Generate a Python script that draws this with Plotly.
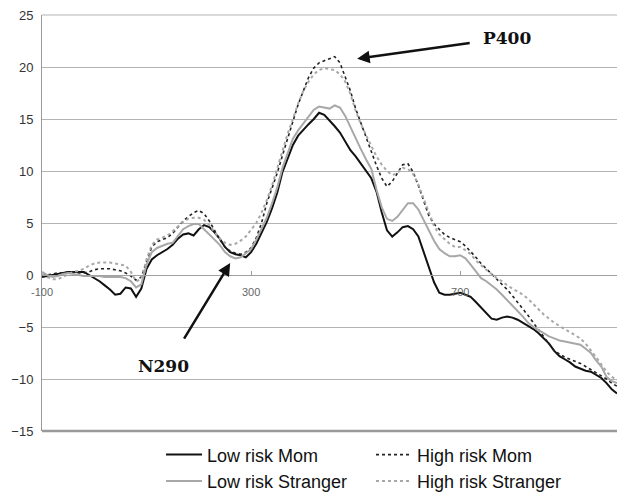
import plotly.graph_objects as go

# time in ms, every 10 ms from -100 to 1000
time_ms = list(range(-100, 1001, 10))

low_risk_mom = [
    -0.2, -0.1, 0.0, 0.1, 0.2, 0.3, 0.3, 0.3, 0.3, 0.0,
    -0.3, -0.6, -1.0, -1.4, -1.9, -1.8, -1.2, -1.3, -2.1, -1.3,
    0.6, 1.5, 1.9, 2.2, 2.5, 2.9, 3.5, 3.9, 4.0, 3.8,
    4.4, 4.8, 4.6, 4.1, 3.5, 2.7, 2.2, 2.0, 1.9, 1.7,
    2.2, 3.0, 4.0, 5.1, 6.4, 7.9, 9.9, 11.3, 12.5, 13.4,
    14.0, 14.5, 15.0, 15.6, 15.4, 14.9, 14.3, 13.7, 12.9, 12.0,
    11.4, 10.7, 10.1, 9.3, 8.0, 6.0, 4.3, 3.7, 4.1, 4.6,
    4.7, 4.4, 3.7, 2.2, 0.7, -0.7, -1.7, -1.9, -1.9, -1.8,
    -1.7, -1.9, -2.1, -2.6, -3.1, -3.7, -4.2, -4.3, -4.1, -4.0,
    -4.1, -4.3, -4.6, -4.9, -5.2, -5.6, -6.1, -6.6, -7.3, -7.8,
    -8.1, -8.4, -8.8, -9.0, -9.2, -9.3, -9.6, -9.9, -10.4, -11.0,
    -11.4,
]

high_risk_mom = [
    0.0, 0.0, 0.1, 0.2, 0.2, 0.3, 0.3, 0.2, 0.2, 0.3,
    0.5, 0.6, 0.6, 0.6, 0.5, 0.4, 0.2, -0.1, -0.5, -0.2,
    1.3, 2.7, 3.2, 3.4, 3.6, 4.0, 4.6, 5.2, 5.6, 6.0,
    6.2, 5.9, 5.2, 4.3, 3.4, 2.7, 2.3, 2.1, 2.0, 2.2,
    2.6, 3.6, 5.0, 6.9, 8.3, 9.8, 11.5, 13.1, 14.8, 16.4,
    17.7, 19.0, 19.9, 20.4, 20.6, 20.8, 21.0, 20.4, 19.1, 17.7,
    16.0, 14.6, 13.2, 11.9, 10.5, 9.3, 8.5, 9.0, 9.8, 10.6,
    10.7, 9.9, 8.6, 7.1, 5.7, 4.9, 4.4, 3.9, 3.6, 3.4,
    3.2, 2.8, 2.3, 1.7, 1.1, 0.6, 0.1, -0.3, -0.9, -1.4,
    -2.0, -2.6, -3.2, -3.9, -4.6, -5.3, -6.0, -6.7, -7.3, -7.6,
    -7.9, -8.1, -8.3, -8.5, -8.8, -9.1, -9.4, -9.7, -10.0, -10.4,
    -10.7,
]

low_risk_stranger = [
    0.3, 0.0, -0.2, -0.1, 0.1, 0.2, 0.1, 0.0, -0.1, -0.1,
    -0.1, -0.1, -0.2, -0.2, -0.2, -0.2, -0.3, -0.6, -1.2, -0.9,
    1.0, 2.2, 2.6, 2.8, 3.0, 3.1, 3.7, 4.4, 4.7, 4.9,
    4.9, 4.4, 3.9, 3.4, 2.9, 2.2, 1.8, 1.6, 1.7, 2.1,
    2.5, 3.4, 4.4, 5.5, 6.9, 8.4, 10.3, 11.8, 13.1, 13.9,
    14.6, 15.3, 15.9, 16.2, 16.1, 16.0, 16.3, 16.1, 15.3, 14.2,
    13.2, 12.1, 11.1, 10.2, 8.2, 6.5, 5.4, 5.2, 5.6, 6.3,
    6.9, 6.9, 6.3, 5.3, 4.3, 3.3, 2.5, 2.1, 1.8, 1.8,
    1.9, 1.6, 1.0, 0.4, -0.3, -0.6, -1.0, -1.4, -1.9, -2.4,
    -2.9, -3.4, -4.0, -4.6, -5.0, -5.3, -5.6, -5.9, -6.1, -6.3,
    -6.4, -6.5, -6.6, -6.7, -7.1, -7.5, -8.2, -8.8, -9.8, -10.2,
    -10.4,
]

high_risk_stranger = [
    0.1, -0.2, -0.4, -0.4, -0.2, 0.1, 0.3, 0.4, 0.6, 0.9,
    1.1, 1.2, 1.2, 1.2, 1.1, 1.0, 0.9, 0.3, -0.6, -0.4,
    1.5, 2.9, 3.4, 3.6, 3.8, 4.2, 4.7, 5.1, 5.4, 5.5,
    5.5, 5.3, 4.8, 4.1, 3.5, 3.1, 2.9, 3.0, 3.3, 3.7,
    4.3, 5.0, 6.0, 7.2, 8.6, 10.3, 12.0, 13.6, 15.0, 16.5,
    17.7, 18.6, 19.3, 19.7, 19.9, 19.8, 19.7, 19.3, 18.6, 17.4,
    15.8, 14.5, 13.4, 12.4, 11.4, 10.6, 10.0, 9.6, 9.8, 10.3,
    10.2, 9.7, 8.7, 7.4, 6.0, 4.7, 3.9, 3.4, 3.0, 2.7,
    2.7, 2.4, 2.0, 1.4, 0.9, 0.5, 0.1, -0.3, -0.6, -1.0,
    -1.3, -1.6, -1.9, -2.3, -2.8, -3.3, -3.8, -4.2, -4.6, -4.9,
    -5.2, -5.5, -5.8, -6.1, -6.6, -7.2, -7.9, -8.6, -9.3, -9.8,
    -10.1,
]

x_tick_vals = [-100, 300, 700]
x_tick_text = ["-100", "300", "700"]
y_tick_vals = [-15, -10, -5, 0, 5, 10, 15, 20, 25]

FONT = "Liberation Sans, Arial, sans-serif"

fig = go.Figure()
fig.add_trace(go.Scatter(x=time_ms, y=low_risk_mom, mode="lines", name="Low risk Mom",
                         line=dict(color="#111111", width=2)))
fig.add_trace(go.Scatter(x=time_ms, y=high_risk_mom, mode="lines", name="High risk Mom",
                         line=dict(color="#222222", width=1.6, dash="dot")))
fig.add_trace(go.Scatter(x=time_ms, y=low_risk_stranger, mode="lines", name="Low risk Stranger",
                         line=dict(color="#a8a8a8", width=2)))
fig.add_trace(go.Scatter(x=time_ms, y=high_risk_stranger, mode="lines", name="High risk Stranger",
                         line=dict(color="#a8a8a8", width=2, dash="dot")))

fig.update_layout(
    width=629, height=503,
    margin=dict(l=34, r=20, t=7, b=80, autoexpand=False),
    paper_bgcolor="white", plot_bgcolor="white",
    font=dict(family=FONT, color="#222222"),
    showlegend=True,
    legend=dict(orientation="h", x=0.207, xanchor="left", y=-0.013, yanchor="top",
                entrywidth=159, entrywidthmode="pixels", itemwidth=36,
                font=dict(size=18, family=FONT, color="#111111"),
                bgcolor="rgba(0,0,0,0)"),
    xaxis=dict(range=[-100, 1000], anchor="free", position=0.375, automargin=False,
               tickmode="array", tickvals=x_tick_vals, ticktext=x_tick_text,
               ticks="inside", ticklen=4, tickcolor="#999999", ticklabelstandoff=7,
               showgrid=False, zeroline=False, showline=True, linecolor="#a0a0a0", linewidth=1,
               tickfont=dict(size=11, color="#666666", family=FONT)),
    yaxis=dict(range=[-15, 25.0001], domain=[0, 1], tickmode="array", tickvals=y_tick_vals,
               automargin=False, ticklabeloverflow="allow",
               showgrid=True, gridcolor="#b4b4b4", gridwidth=1, zeroline=False,
               showline=True, linecolor="#999999", linewidth=1,
               ticks="outside", ticklen=5, tickcolor="rgba(0,0,0,0)",
               tickfont=dict(size=13, color="#333333", family=FONT)),
)

# top gridline (plot edge) and bottom border
fig.add_shape(type="line", xref="paper", yref="paper", x0=0, x1=1, y0=1, y1=1,
              line=dict(color="#b4b4b4", width=1.2))
fig.add_shape(type="line", xref="paper", yref="paper", x0=0, x1=1, y0=0, y1=0,
              line=dict(color="#999999", width=2.5))

# annotations
fig.add_annotation(x=790, y=22.8, xref="x", yref="y", text="<b>P400</b>", showarrow=False,
                   font=dict(family="DejaVu Serif, serif", size=17, color="#111111"))
fig.add_annotation(x=503, y=20.8, xref="x", yref="y", text="", showarrow=True,
                   ax=114, ay=-16, arrowhead=2, arrowsize=1, arrowwidth=2.5, arrowcolor="#111111")
fig.add_annotation(x=132, y=-8.75, xref="x", yref="y", text="<b>N290</b>", showarrow=False,
                   font=dict(family="DejaVu Serif, serif", size=17, color="#111111"))
fig.add_annotation(x=260, y=1.15, xref="x", yref="y", text="", showarrow=True,
                   ax=-47, ay=77, arrowhead=2, arrowsize=1, arrowwidth=2.5, arrowcolor="#111111")

fig.write_html("out.html")
